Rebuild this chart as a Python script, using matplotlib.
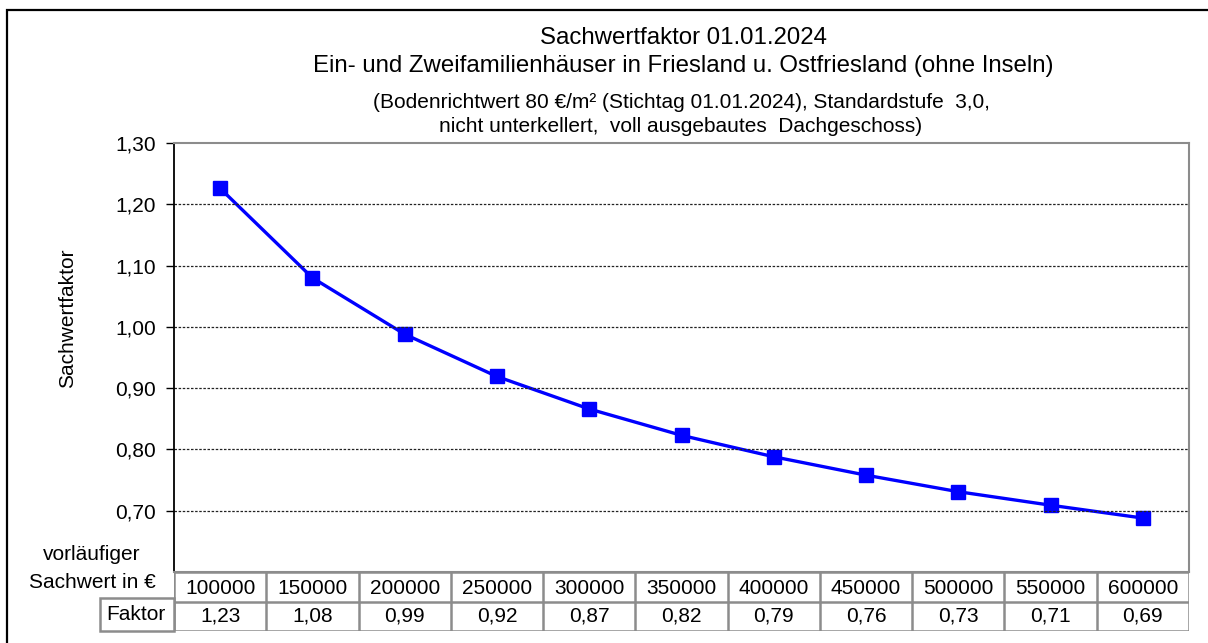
import matplotlib
matplotlib.use("Agg")
import matplotlib.pyplot as plt
from matplotlib.patches import Rectangle

# Daten
sachwert = [100000, 150000, 200000, 250000, 300000, 350000,
            400000, 450000, 500000, 550000, 600000]
faktor = [1.226, 1.080, 0.988, 0.919, 0.866, 0.823,
          0.788, 0.758, 0.731, 0.709, 0.688]
faktor_table = ["1,23", "1,08", "0,99", "0,92", "0,87", "0,82",
                "0,79", "0,76", "0,73", "0,71", "0,69"]
yticks = [0.70, 0.80, 0.90, 1.00, 1.10, 1.20, 1.30]

plt.rcParams['font.family'] = ['Liberation Sans', 'DejaVu Sans']

W, H = 1208, 643
fig = plt.figure(figsize=(W / 100, H / 100), dpi=100)

def fx(px):
    return px / W

def fy(py):
    return 1 - py / H

# outer frame
fig.patches.append(Rectangle((fx(7), fy(700)), fx(1250) - fx(7), fy(10) - fy(700),
                             transform=fig.transFigure, fill=False,
                             edgecolor='black', linewidth=1.6))

ax_l, ax_r, ax_t, ax_b = 174, 1189, 143, 572
ax = fig.add_axes([fx(ax_l), fy(ax_b), fx(ax_r - ax_l), fy(ax_t) - fy(ax_b)])

x = list(range(len(sachwert)))
ax.plot(x, faktor, color='#0000ff', linewidth=2.4, marker='s',
        markersize=10.5, markerfacecolor='#0000ff', markeredgecolor='#0000ff')
ax.set_xlim(-0.5, len(sachwert) - 0.5)
ax.set_ylim(0.6, 1.3)
ax.set_yticks(yticks)
ax.set_yticklabels([f"{v:.2f}".replace('.', ',') for v in yticks], fontsize=15)
ax.set_xticks([])
ax.tick_params(axis='y', direction='out', length=6, width=1, color='black', pad=7)
for v in yticks[:-1]:
    ax.axhline(v, color='#222222', linestyle=(0, (2, 1.3)), linewidth=0.9)
ax.spines['left'].set_color('black')
ax.spines['left'].set_linewidth(1.3)
for s in ['top', 'right', 'bottom']:
    ax.spines[s].set_color('#8c8c8c')
    ax.spines[s].set_linewidth(1.5)

# titles
fig.text(fx(683), fy(38), "Sachwertfaktor 01.01.2024", ha='center', va='center', fontsize=17.3)
fig.text(fx(683), fy(66), "Ein- und Zweifamilienhäuser in Friesland u. Ostfriesland (ohne Inseln)",
         ha='center', va='center', fontsize=17.3)
fig.text(fx(681), fy(102), "(Bodenrichtwert 80 €/m² (Stichtag 01.01.2024), Standardstufe  3,0,",
         ha='center', va='center', fontsize=15)
fig.text(fx(681), fy(126), "nicht unterkellert,  voll ausgebautes  Dachgeschoss)",
         ha='center', va='center', fontsize=15)
fig.text(fx(68), fy(318), "Sachwertfaktor", rotation=90, ha='center', va='center', fontsize=15)

# table
tab_t, tab_m, tab_b = 572, 598, 631
tax = fig.add_axes([fx(ax_l), fy(tab_b), fx(ax_r - ax_l), fy(tab_t) - fy(tab_b)])
tax.set_xlim(-0.5, len(sachwert) - 0.5)
tax.set_ylim(0, 2)
tax.axis('off')
grey = '#8c8c8c'
tax.hlines([0, 1, 2], -0.5, len(sachwert) - 0.5, color=grey, linewidth=1.8)
tax.vlines([i - 0.5 for i in range(len(sachwert) + 1)], 0, 2, color=grey, linewidth=1.8)
for i, (s, f) in enumerate(zip(sachwert, faktor_table)):
    tax.text(i, 1.45, str(s), ha='center', va='center', fontsize=15)
    tax.text(i, 0.5, f, ha='center', va='center', fontsize=15)

# row labels
fig.text(fx(92), fy(555), "vorläufiger", ha='center', va='center', fontsize=15)
fig.text(fx(92), fy(582), "Sachwert in €", ha='center', va='center', fontsize=15)
fig.patches.append(Rectangle((fx(100), fy(tab_b)), fx(ax_l) - fx(100), fy(tab_m) - fy(tab_b),
                             transform=fig.transFigure, fill=False,
                             edgecolor=grey, linewidth=1.8))
fig.text(fx(136), fy(614), "Faktor", ha='center', va='center', fontsize=15)

fig.savefig("out.png", dpi=100)
